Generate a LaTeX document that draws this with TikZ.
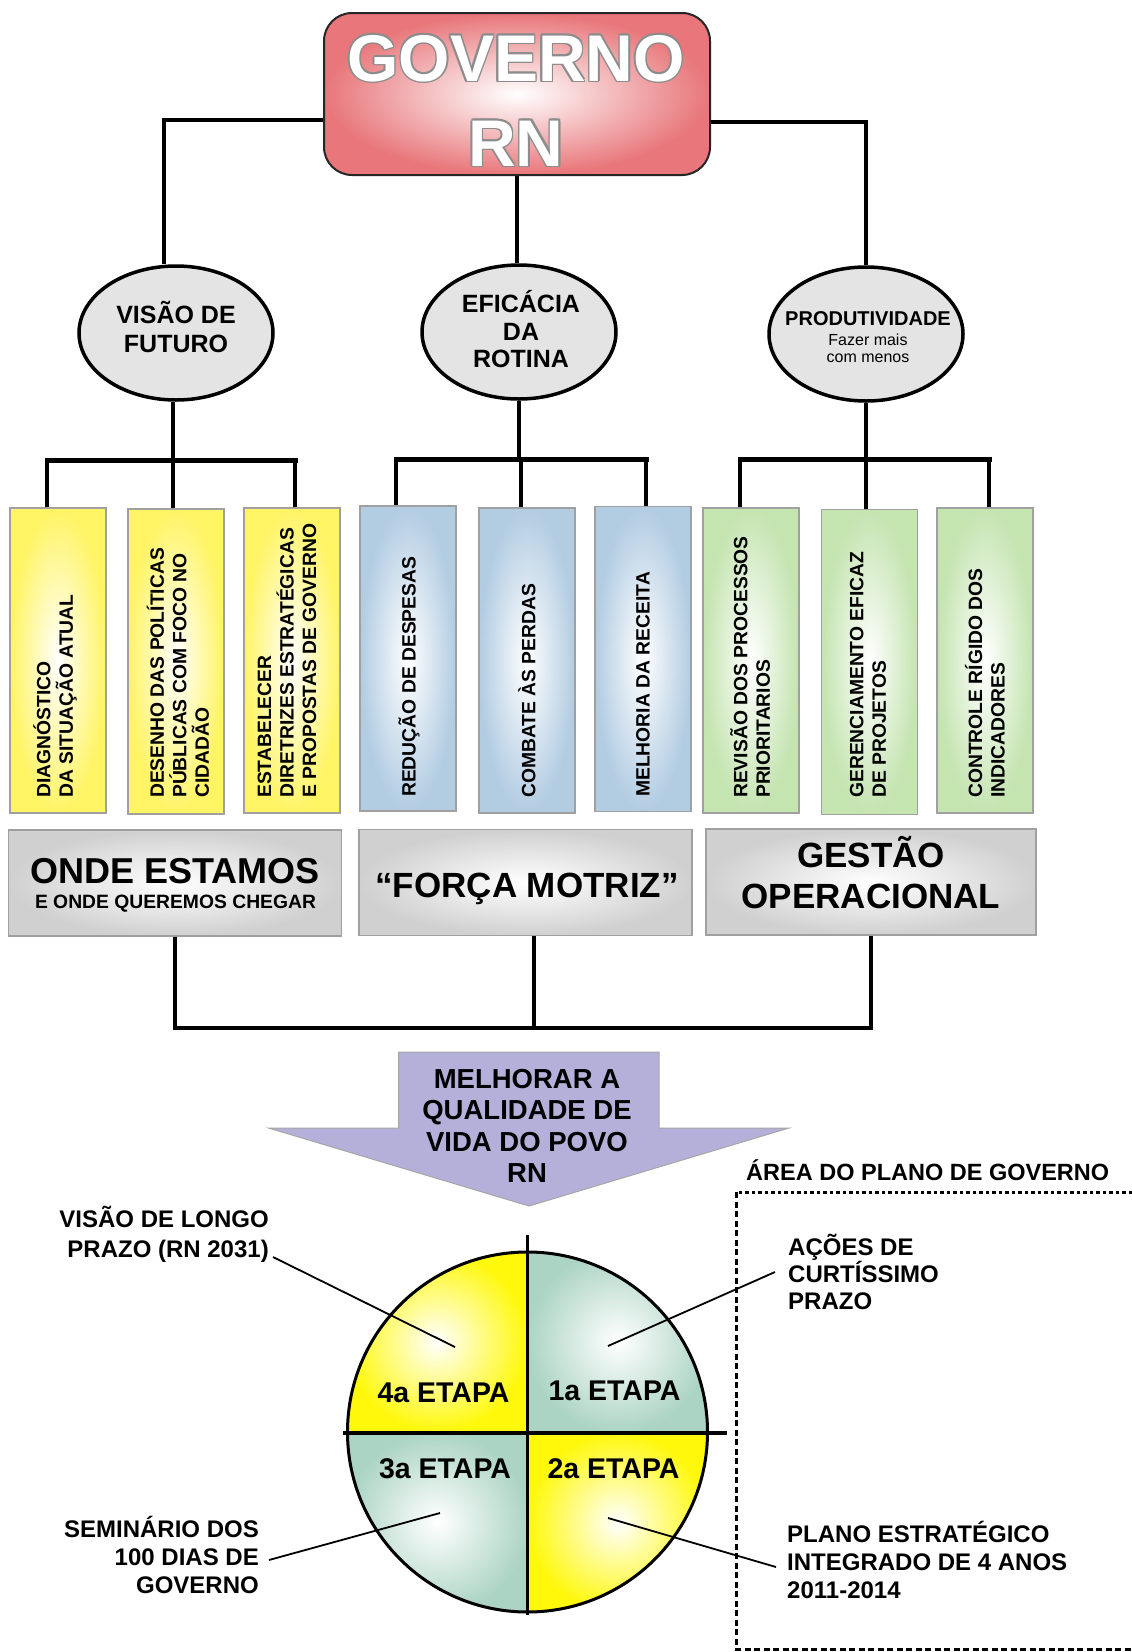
\documentclass[tikz,border=0pt]{standalone}
\usepackage{fontspec}
\setmainfont{Liberation Sans}
\usetikzlibrary{shapes.geometric}
\definecolor{govred}{RGB}{232,118,122}
\definecolor{ellgray}{RGB}{228,228,228}
\definecolor{ylw}{RGB}{255,244,100}
\definecolor{blu}{RGB}{178,204,226}
\definecolor{grn}{RGB}{196,228,176}
\definecolor{gry}{RGB}{208,208,208}
\definecolor{lav}{RGB}{180,176,218}
\definecolor{cy}{RGB}{255,248,10}
\definecolor{tealc}{RGB}{172,212,196}
\definecolor{olgray}{RGB}{140,140,140}
\definecolor{bordgray}{RGB}{160,160,160}
\newcommand\fsz[2]{\fontsize{#1}{#2}\selectfont}
\newcommand\outl[1]{\leavevmode
 \rlap{\color{olgray}\kern-1.6pt #1}%
 \rlap{\color{olgray}\kern1.6pt #1}%
 \rlap{\color{olgray}\raisebox{1.6pt}{#1}}%
 \rlap{\color{olgray}\raisebox{-1.6pt}{#1}}%
 \rlap{\color{olgray}\kern-1.1pt\raisebox{1.1pt}{#1}}%
 \rlap{\color{olgray}\kern1.1pt\raisebox{1.1pt}{#1}}%
 \rlap{\color{olgray}\kern-1.1pt\raisebox{-1.1pt}{#1}}%
 \rlap{\color{olgray}\kern1.1pt\raisebox{-1.1pt}{#1}}%
 {\color{white}#1}}
\begin{document}
\begin{tikzpicture}[x=1pt,y=-1pt,
  conn/.style={line width=3.5pt},
  brk/.style={line width=5pt, line cap=rect},
  leader/.style={line width=1.8pt},
  ell/.style={ellipse, draw, line width=3.5pt, fill=ellgray, minimum width=194pt, minimum height=134pt, inner sep=0},
  vbox/.style={draw=bordgray, line width=1.2pt, inner color=white, minimum width=96pt, minimum height=305pt, inner sep=0},
  gbox/.style={draw=bordgray, line width=1.2pt, inner color=white, outer color=gry, minimum height=106pt, inner sep=0},
  vtxt/.style={rotate=90, anchor=west, align=left, inner sep=0, font=\fsz{19.3}{22.5}\bfseries},
  lbl/.style={anchor=base, inner sep=0},
  lbr/.style={anchor=base east, inner sep=0, font=\fsz{24}{29}\bfseries},
  lbl2/.style={anchor=base west, inner sep=0, font=\fsz{24}{29}\bfseries},
  dotl/.style={line width=3pt, dash pattern=on 3.5pt off 3pt},
  dashl/.style={line width=3pt, dash pattern=on 6pt off 3.5pt}
]
\fill[white] (0,0) rectangle (1132,1652);
\useasboundingbox (0,0) rectangle (1132,1652);

% top box
\node[draw=black!85, line width=2pt, rounded corners=28pt, inner color=white, outer color=govred, minimum width=386pt, minimum height=162pt, inner sep=0] (gov) at (517,94) {};
\node[lbl, font=\fsz{66}{66}\bfseries] (govt1) at (516,81) {\outl{GOVERNO}};
\node[lbl, font=\fsz{66}{66}\bfseries] (govt2) at (516,166) {\outl{RN}};

% ellipses
\node[ell] (e1) at (176,333) {};
\node[ell] (e2) at (519,332) {};
\node[ell] (e3) at (866,334) {};
\node[lbl, font=\fsz{25}{29}\bfseries] (e1a) at (176,323) {VISÃO DE};
\node[lbl, font=\fsz{25}{29}\bfseries] (e1b) at (176,352) {FUTURO};
\node[lbl, font=\fsz{25}{29}\bfseries] (e2a) at (521,312) {EFICÁCIA};
\node[lbl, font=\fsz{25}{29}\bfseries] (e2b) at (521,340) {DA};
\node[lbl, font=\fsz{25}{29}\bfseries] (e2c) at (521,367) {ROTINA};
\node[lbl, font=\fsz{20}{20}\bfseries] (e3a) at (868,325) {PRODUTIVIDADE};
\node[lbl, font=\fsz{16}{17}] (e3b) at (868,345) {Fazer mais};
\node[lbl, font=\fsz{16}{17}] (e3c) at (868,362) {com menos};

% connectors from top
\draw[conn] ([yshift=-26pt]gov.west) -| ([xshift=-12pt]e1.north);
\draw[conn] ([yshift=-28pt]gov.east) -| (e3.north);
\draw[conn] (gov.south) -- (gov.south |- e2.north);

% boxes
\node[vbox, outer color=ylw] (b1) at (58,660.5) {};
\node[vbox, outer color=ylw] (b2) at (176,661.5) {};
\node[vbox, outer color=ylw] (b3) at (292,660.5) {};
\node[vbox, outer color=blu] (b4) at (408,658.5) {};
\node[vbox, outer color=blu] (b5) at (527,660.5) {};
\node[vbox, outer color=blu] (b6) at (643,659) {};
\node[vbox, outer color=grn] (b7) at (751,660.5) {};
\node[vbox, outer color=grn] (b8) at (869.5,662) {};
\node[vbox, outer color=grn] (b9) at (985,660.5) {};

\node[vtxt] (t1) at (55,798) {DIAGNÓSTICO\\DA SITUAÇÃO ATUAL};
\node[vtxt] (t2) at (178,798) {DESENHO DAS POLÍTICAS\\PÚBLICAS COM FOCO NO\\CIDADÃO};
\node[vtxt] (t3) at (287,798) {ESTABELECER\\DIRETRIZES ESTRATÉGICAS\\E PROPOSTAS DE GOVERNO};
\node[vtxt] (t4) at (409,797) {REDUÇÃO DE DESPESAS};
\node[vtxt] (t5) at (527,798) {COMBATE ÀS PERDAS};
\node[vtxt] (t6) at (643,797) {MELHORIA DA RECEITA};
\node[vtxt] (t7) at (750,798) {REVISÃO DOS PROCESSOS\\PRIORITARIOS};
\node[vtxt] (t8) at (868,798) {GERENCIAMENTO EFICAZ\\DE PROJETOS};
\node[vtxt] (t9) at (985,798) {CONTROLE RÍGIDO DOS\\INDICADORES};

% brackets
\coordinate (j1) at (173,460);
\coordinate (j2) at (521,459);
\coordinate (j3) at (866,459);
\draw[conn] ([xshift=-3pt]e1.south) -- ([xshift=-3pt]e1.south |- j1);
\draw[conn] (e2.south) -- (e2.south |- j2);
\draw[conn] (e3.south) -- (j3);
\draw[brk] ([xshift=-11pt]b1.north |- j1) -- ([xshift=3pt]b3.north |- j1);
\draw[brk] ([xshift=-12pt]b4.north |- j2) -- ([xshift=3pt]b6.north |- j2);
\draw[brk] ([xshift=-11pt]b7.north |- j3) -- ([xshift=4pt]b9.north |- j3);
\draw[conn] ([xshift=-11pt]b1.north) -- ([xshift=-11pt]b1.north |- j1);
\draw[conn] ([xshift=-3pt]b2.north) -- ([xshift=-3pt]b2.north |- j1);
\draw[conn] ([xshift=3pt]b3.north) -- ([xshift=3pt]b3.north |- j1);
\draw[conn] ([xshift=-12pt]b4.north) -- ([xshift=-12pt]b4.north |- j2);
\draw[conn] ([xshift=-6pt]b5.north) -- ([xshift=-6pt]b5.north |- j2);
\draw[conn] ([xshift=3pt]b6.north) -- ([xshift=3pt]b6.north |- j2);
\draw[conn] ([xshift=-11pt]b7.north) -- ([xshift=-11pt]b7.north |- j3);
\draw[conn] ([xshift=-3.5pt]b8.north) -- ([xshift=-3.5pt]b8.north |- j3);
\draw[conn] ([xshift=4pt]b9.north) -- ([xshift=4pt]b9.north |- j3);

% gray boxes
\node[gbox, minimum width=333pt] (g1) at (175,883) {};
\node[gbox, minimum width=333pt] (g2) at (525.5,882.5) {};
\node[gbox, minimum width=330pt] (g3) at (871,882) {};
\node[lbl, font=\fsz{36}{36}\bfseries] (g1a) at (175,883) {ONDE ESTAMOS};
\node[lbl, font=\fsz{19.3}{20}\bfseries] (g1b) at (175.5,908) {E ONDE QUEREMOS CHEGAR};
\node[lbl, font=\fsz{35}{35}\bfseries] (g2a) at (527,897) {“FORÇA MOTRIZ”};
\node[lbl, font=\fsz{35}{35}\bfseries] (g3a) at (871,867) {GESTÃO};
\node[lbl, font=\fsz{35}{35}\bfseries] (g3b) at (871,908) {OPERACIONAL};

\coordinate (jb) at (534,1028);
\draw[conn, line join=miter] (g1.south) |- (jb) -| (g3.south);
\draw[conn] ([xshift=8.5pt]g2.south) -- ([xshift=8.5pt]g2.south |- jb);

% big arrow
\filldraw[fill=lav, draw=gray!70, line width=1pt] (398.5,1052) -- (659,1052) -- (659,1128) -- (789,1128) -- (529,1206) -- (268.6,1128) -- (398.5,1128) -- cycle;
\node[lbl, font=\fsz{27.5}{31}\bfseries] (ar1) at (527,1088) {MELHORAR A};
\node[lbl, font=\fsz{27.5}{31}\bfseries] (ar2) at (527,1119) {QUALIDADE DE};
\node[lbl, font=\fsz{27.5}{31}\bfseries] (ar3) at (527,1151) {VIDA DO POVO};
\node[lbl, font=\fsz{27.5}{31}\bfseries] (ar4) at (527,1182) {RN};

% area of plan
\node[lbl2, font=\fsz{23.5}{29}\bfseries] (area) at (746,1180) {ÁREA DO PLANO DE GOVERNO};
\draw[dotl] (1132,1192) -- (736,1192);
\draw[dashl] (736,1192) -- (736,1649) -- (1132,1649);

% circle
\coordinate (C) at (527.5,1432);
\begin{scope}
\clip (C) circle[radius=180pt];
\shade[inner color=white, outer color=cy] (C) rectangle ++(-181,-181);
\shade[inner color=white, outer color=tealc] (C) rectangle ++(181,-181);
\shade[inner color=white, outer color=tealc] (C) rectangle ++(-181,181);
\shade[inner color=white, outer color=cy] (C) rectangle ++(181,181);
\end{scope}
\draw[line width=3pt] (C) circle[radius=180pt];
\draw[line width=3pt] (527.5,1235) -- (527.5,1615);
\draw[line width=4.5pt] (343,1433) -- (727,1433);

\node[lbl, font=\fsz{28.5}{30}\bfseries] (s4) at (443.5,1402) {4a ETAPA};
\node[lbl, font=\fsz{28.5}{30}\bfseries] (s1) at (614.5,1400) {1a ETAPA};
\node[lbl, font=\fsz{28.5}{30}\bfseries] (s3) at (445,1478) {3a ETAPA};
\node[lbl, font=\fsz{28.5}{30}\bfseries] (s2) at (613.5,1478) {2a ETAPA};

% labels
\node[lbr] (lv1) at (269,1227) {VISÃO DE LONGO};
\node[lbr] (lv2) at (269,1257) {PRAZO (RN 2031)};
\node[lbl2] (la1) at (788,1255) {AÇÕES DE};
\node[lbl2] (la2) at (788,1282) {CURTÍSSIMO};
\node[lbl2] (la3) at (788,1309) {PRAZO};
\node[lbr] (ls1) at (259,1537) {SEMINÁRIO DOS};
\node[lbr] (ls2) at (259,1565) {100 DIAS DE};
\node[lbr] (ls3) at (259,1593) {GOVERNO};
\node[lbl2] (lp1) at (787,1542) {PLANO ESTRATÉGICO};
\node[lbl2] (lp2) at (787,1570) {INTEGRADO DE 4 ANOS};
\node[lbl2] (lp3) at (787,1598) {2011-2014};

\coordinate (p4) at (455,1347);
\coordinate (p1) at (608,1346);
\coordinate (p3) at (440,1513);
\coordinate (p2) at (608,1518);
\draw[leader] ([xshift=4pt]lv2.base east) -- (p4);
\draw[leader] ([xshift=-13pt,yshift=10pt]la2.base west) -- (p1);
\draw[leader] ([xshift=10pt,yshift=5pt]ls2.base east) -- (p3);
\draw[leader] ([xshift=-11pt,yshift=3pt]lp2.base west) -- (p2);
\end{tikzpicture}
\end{document}
